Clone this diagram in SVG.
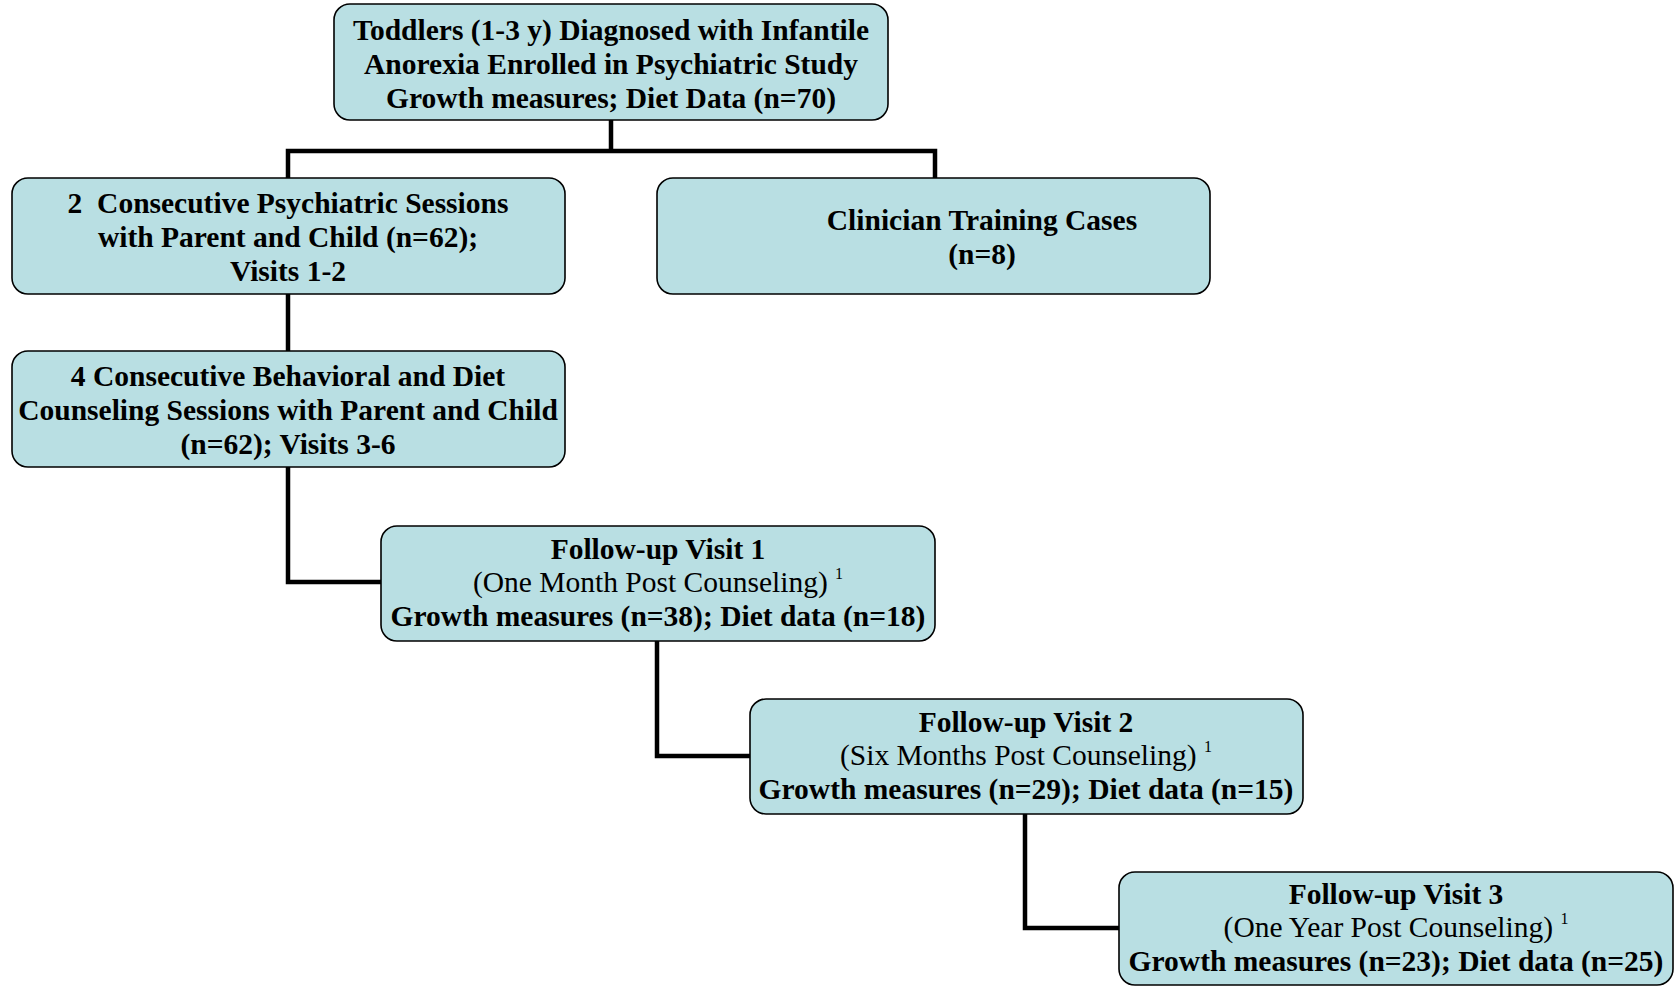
<svg xmlns="http://www.w3.org/2000/svg" width="1675" height="986" viewBox="0 0 1675 986">
<style>
.box{fill:#b9dfe3;stroke:#000;stroke-width:1.6}
.t{font-family:"Liberation Serif","Times New Roman",serif;font-size:29.5px;fill:#000;text-anchor:middle}
.b{font-weight:bold}
.sup{font-size:16px}
.conn{fill:none;stroke:#000;stroke-width:4.5;stroke-linejoin:miter}
</style>
<rect width="1675" height="986" fill="#fff"/>
<g id="connectors">
<path class="conn" d="M611,120 V151 M288,178 V151 H935 V178"/>
<path class="conn" d="M288,294 V351"/>
<path class="conn" d="M288,467 V582 H381"/>
<path class="conn" d="M657,641 V756 H750"/>
<path class="conn" d="M1025,814 V928 H1119"/>
</g>
<g id="n1">
<rect class="box" x="334" y="4" width="554" height="116" rx="16"/>
<text class="t b" x="611" y="40">Toddlers (1-3 y) Diagnosed with Infantile</text>
<text class="t b" x="611" y="74">Anorexia Enrolled in Psychiatric Study</text>
<text class="t b" x="611" y="108">Growth measures; Diet Data (n=70)</text>
</g>
<g id="n2">
<rect class="box" x="12" y="178" width="553" height="116" rx="16"/>
<text class="t b" x="288" y="213" xml:space="preserve">2  Consecutive Psychiatric Sessions</text>
<text class="t b" x="288" y="247">with Parent and Child (n=62);</text>
<text class="t b" x="288" y="281">Visits 1-2</text>
</g>
<g id="n3">
<rect class="box" x="657" y="178" width="553" height="116" rx="16"/>
<text class="t b" x="982" y="230">Clinician Training Cases</text>
<text class="t b" x="982" y="264">(n=8)</text>
</g>
<g id="n4">
<rect class="box" x="12" y="351" width="553" height="116" rx="16"/>
<text class="t b" x="288" y="386">4 Consecutive Behavioral and Diet</text>
<text class="t b" x="288" y="420">Counseling Sessions with Parent and Child</text>
<text class="t b" x="288" y="454">(n=62); Visits 3-6</text>
</g>
<g id="n5">
<rect class="box" x="381" y="526" width="554" height="115" rx="16"/>
<text class="t b" x="658" y="559">Follow-up Visit 1</text>
<text class="t" x="658" y="592">(One Month Post Counseling) <tspan class="sup" dy="-13">1</tspan></text>
<text class="t b" x="658" y="626">Growth measures (n=38); Diet data (n=18)</text>
</g>
<g id="n6">
<rect class="box" x="750" y="699" width="553" height="115" rx="16"/>
<text class="t b" x="1026" y="732">Follow-up Visit 2</text>
<text class="t" x="1026" y="765">(Six Months Post Counseling) <tspan class="sup" dy="-13">1</tspan></text>
<text class="t b" x="1026" y="799">Growth measures (n=29); Diet data (n=15)</text>
</g>
<g id="n7">
<rect class="box" x="1119" y="872" width="554" height="113" rx="16"/>
<text class="t b" x="1396" y="904">Follow-up Visit 3</text>
<text class="t" x="1396" y="937">(One Year Post Counseling) <tspan class="sup" dy="-13">1</tspan></text>
<text class="t b" x="1396" y="971">Growth measures (n=23); Diet data (n=25)</text>
</g>
</svg>
